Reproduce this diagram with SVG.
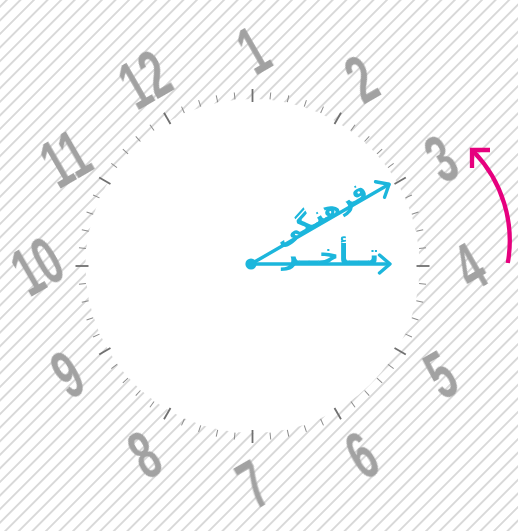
<svg xmlns="http://www.w3.org/2000/svg" xmlns:xlink="http://www.w3.org/1999/xlink" width="518" height="531" viewBox="0 0 518 531">
<defs>
<pattern id="hatch" patternUnits="userSpaceOnUse" width="20" height="9.6" patternTransform="rotate(-45)">
<line x1="-2" y1="4.8" x2="22" y2="4.8" stroke="#a0a0a0" stroke-width="0.8"/>
</pattern>
<filter id="soft" x="-20%" y="-20%" width="140%" height="140%"><feGaussianBlur stdDeviation="0.7"/></filter>
<line id="mi" x1="252.5" y1="91.5" x2="252.5" y2="98.5" class="minor"/>
<line id="ma" x1="252.5" y1="89" x2="252.5" y2="102" class="major"/>
</defs>
<style>
.num{font-family:"Liberation Sans",Arial,sans-serif;font-weight:bold;font-size:68px;fill:#a2a2a2;text-anchor:middle}
.minor{stroke:#8c8c8c;stroke-width:1}
.major{stroke:#707070;stroke-width:1.8}
.blue{stroke:#1cb6dc;stroke-width:3.4;fill:none;stroke-linecap:round;stroke-linejoin:round}
.ar{font-family:"DejaVu Sans","Noto Sans",sans-serif;font-weight:bold;fill:#1cb6dc}
.mag{stroke:#e6007e;stroke-width:4.3;fill:none}
</style>
<rect width="518" height="531" fill="#fff"/>
<g id="numerals" filter="url(#soft)" transform="rotate(-30 252.5 266)">
<text class="num" transform="translate(361,78.1) scale(0.6,1)" y="24.5">1</text>
<text class="num" transform="translate(440.4,157.5) scale(0.6,1)" y="24.5">2</text>
<text class="num" transform="translate(469.5,266) scale(0.6,1)" y="24.5">3</text>
<text class="num" transform="translate(440.4,374.5) scale(0.6,1)" y="24.5">4</text>
<text class="num" transform="translate(361,453.9) scale(0.6,1)" y="24.5">5</text>
<text class="num" transform="translate(252.5,483) scale(0.6,1)" y="24.5">6</text>
<text class="num" transform="translate(144,453.9) scale(0.6,1)" y="24.5">7</text>
<text class="num" transform="translate(64.6,374.5) scale(0.6,1)" y="24.5">8</text>
<text class="num" transform="translate(38,266) scale(0.6,1)" y="24.5">9</text>
<text class="num" transform="translate(66,157.5) scale(0.6,1)" y="24.5">10</text>
<text class="num" transform="translate(144,78.1) scale(0.6,1)" y="24.5">11</text>
<text class="num" transform="translate(252.5,49) scale(0.6,1)" y="24.5">12</text>
</g>
<rect id="hatching" width="518" height="531" fill="url(#hatch)"/>
<circle id="dial" cx="252.5" cy="266" r="167" fill="#fff"/>
<g id="ticks">
<use xlink:href="#ma"/><use xlink:href="#mi" transform="rotate(6 252.5 266)"/><use xlink:href="#mi" transform="rotate(12 252.5 266)"/><use xlink:href="#mi" transform="rotate(18 252.5 266)"/><use xlink:href="#mi" transform="rotate(24 252.5 266)"/>
<use xlink:href="#ma" transform="rotate(30 252.5 266)"/><use xlink:href="#mi" transform="rotate(36 252.5 266)"/><use xlink:href="#mi" transform="rotate(42 252.5 266)"/><use xlink:href="#mi" transform="rotate(48 252.5 266)"/><use xlink:href="#mi" transform="rotate(54 252.5 266)"/>
<use xlink:href="#ma" transform="rotate(60 252.5 266)"/><use xlink:href="#mi" transform="rotate(66 252.5 266)"/><use xlink:href="#mi" transform="rotate(72 252.5 266)"/><use xlink:href="#mi" transform="rotate(78 252.5 266)"/><use xlink:href="#mi" transform="rotate(84 252.5 266)"/>
<use xlink:href="#ma" transform="rotate(90 252.5 266)"/><use xlink:href="#mi" transform="rotate(96 252.5 266)"/><use xlink:href="#mi" transform="rotate(102 252.5 266)"/><use xlink:href="#mi" transform="rotate(108 252.5 266)"/><use xlink:href="#mi" transform="rotate(114 252.5 266)"/>
<use xlink:href="#ma" transform="rotate(120 252.5 266)"/><use xlink:href="#mi" transform="rotate(126 252.5 266)"/><use xlink:href="#mi" transform="rotate(132 252.5 266)"/><use xlink:href="#mi" transform="rotate(138 252.5 266)"/><use xlink:href="#mi" transform="rotate(144 252.5 266)"/>
<use xlink:href="#ma" transform="rotate(150 252.5 266)"/><use xlink:href="#mi" transform="rotate(156 252.5 266)"/><use xlink:href="#mi" transform="rotate(162 252.5 266)"/><use xlink:href="#mi" transform="rotate(168 252.5 266)"/><use xlink:href="#mi" transform="rotate(174 252.5 266)"/>
<use xlink:href="#ma" transform="rotate(180 252.5 266)"/><use xlink:href="#mi" transform="rotate(186 252.5 266)"/><use xlink:href="#mi" transform="rotate(192 252.5 266)"/><use xlink:href="#mi" transform="rotate(198 252.5 266)"/><use xlink:href="#mi" transform="rotate(204 252.5 266)"/>
<use xlink:href="#ma" transform="rotate(210 252.5 266)"/><use xlink:href="#mi" transform="rotate(216 252.5 266)"/><use xlink:href="#mi" transform="rotate(222 252.5 266)"/><use xlink:href="#mi" transform="rotate(228 252.5 266)"/><use xlink:href="#mi" transform="rotate(234 252.5 266)"/>
<use xlink:href="#ma" transform="rotate(240 252.5 266)"/><use xlink:href="#mi" transform="rotate(246 252.5 266)"/><use xlink:href="#mi" transform="rotate(252 252.5 266)"/><use xlink:href="#mi" transform="rotate(258 252.5 266)"/><use xlink:href="#mi" transform="rotate(264 252.5 266)"/>
<use xlink:href="#ma" transform="rotate(270 252.5 266)"/><use xlink:href="#mi" transform="rotate(276 252.5 266)"/><use xlink:href="#mi" transform="rotate(282 252.5 266)"/><use xlink:href="#mi" transform="rotate(288 252.5 266)"/><use xlink:href="#mi" transform="rotate(294 252.5 266)"/>
<use xlink:href="#ma" transform="rotate(300 252.5 266)"/><use xlink:href="#mi" transform="rotate(306 252.5 266)"/><use xlink:href="#mi" transform="rotate(312 252.5 266)"/><use xlink:href="#mi" transform="rotate(318 252.5 266)"/><use xlink:href="#mi" transform="rotate(324 252.5 266)"/>
<use xlink:href="#ma" transform="rotate(330 252.5 266)"/><use xlink:href="#mi" transform="rotate(336 252.5 266)"/><use xlink:href="#mi" transform="rotate(342 252.5 266)"/><use xlink:href="#mi" transform="rotate(348 252.5 266)"/><use xlink:href="#mi" transform="rotate(354 252.5 266)"/>
</g>
<g id="connectors">
<path id="lag-line" class="blue" d="M251,264 H389"/>
<polyline class="blue" points="379.5,255 390,264 379.5,273"/>
<g transform="translate(251,264) rotate(-30)">
<path class="blue" d="M4,0 H159"/>
<polyline class="blue" points="149,-9 159.5,0 149,9"/>
</g>
<path id="rotation-arrow" class="mag" d="M507.8,263 A128,128 0 0 0 474,152"/>
<polyline class="mag" points="490,150 472,150 472,168" stroke-linejoin="miter"/>
</g>
<g id="center-dot"><circle cx="251" cy="264" r="5.6" fill="#1cb6dc"/></g>
<g id="label-lag"><text class="ar" x="379" y="264" font-size="28" text-anchor="end">تــأخــر</text></g>
<g id="label-cultural" transform="translate(251,264) rotate(-30)">
<text class="ar" x="137" y="0" font-size="25" text-anchor="end">فرهنـ</text>
<text class="ar" x="34" y="0" font-size="25" text-anchor="start">ـگی</text>
</g>
</svg>
